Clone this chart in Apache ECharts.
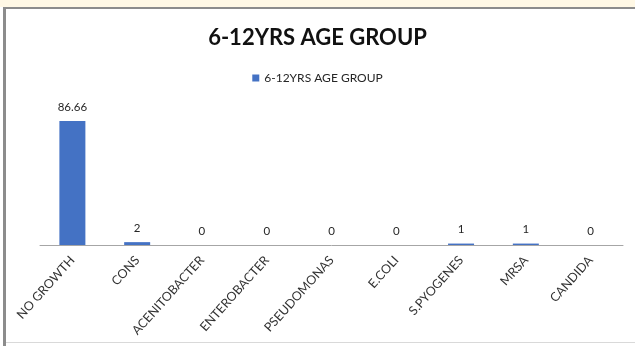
<!DOCTYPE html>
<html><head><meta charset="utf-8">
<script src="https://cdn.jsdelivr.net/npm/echarts@6/dist/echarts.min.js"></script>
<style>html,body{margin:0;padding:0;background:#fff;}#c{width:635px;height:346px;}</style>
</head><body><div id="c"></div>
<script>
var categories = ["NO GROWTH","CONS","ACENITOBACTER","ENTEROBACTER","PSEUDOMONAS","E.COLI","S.PYOGENES","MRSA","CANDIDA"];
var values = [86.66, 2, 0, 0, 0, 0, 1, 1, 0];
var seriesName = "6-12YRS AGE GROUP";
var titleText = "6-12YRS AGE GROUP";

var chart = echarts.init(document.getElementById('c'), null, {renderer:'canvas'});
chart.setOption({
  backgroundColor: '#ffffff',
  animation: false,
  graphic: [
    {type:'rect', shape:{x:0,y:0,width:635,height:7}, style:{fill:'#fff8e5'}, z:-10},
    {type:'rect', shape:{x:3,y:7,width:640,height:2}, style:{fill:'#8c8c8c'}, z:-10},
    {type:'rect', shape:{x:3,y:7,width:3,height:339}, style:{fill:'#8c8c8c'}, z:-10},
    {type:'rect', shape:{x:6,y:342,width:640,height:1}, style:{fill:'#d9d9d9'}, z:-10}
  ],
  title: {
    text: titleText, left: 'center', top: 22,
    textStyle: {fontFamily:'Lato', fontWeight:'bold', fontSize:22, color:'#111111'}
  },
  legend: {
    data: [seriesName], top: 67, left: 'center',
    itemWidth: 7, itemHeight: 7, itemGap: 4,
    textStyle: {fontFamily:'Lato', fontSize:12, color:'#262626'},
    icon: 'rect'
  },
  grid: {left: 40, right: 12, top: 102, bottom: 101, containLabel: false},
  xAxis: {
    type: 'category', data: categories,
    axisLine: {lineStyle:{color:'#a6a6a6', width:1}},
    axisTick: {show:false},
    axisLabel: {rotate: 48, interval: 0, margin: 13, fontFamily:'Lato', fontSize:12.5, color:'#333333'}
  },
  yAxis: {
    type: 'value', min: 0, max: 100, show: false,
    splitLine: {show:false}
  },
  series: [{
    name: seriesName, type: 'bar', data: values,
    barWidth: 26,
    itemStyle: {color:'#4472c4'},
    label: {show:true, position:'top', distance: 8, fontFamily:'Lato', fontSize:11.5, color:'#262626'}
  }]
});
</script></body></html>
